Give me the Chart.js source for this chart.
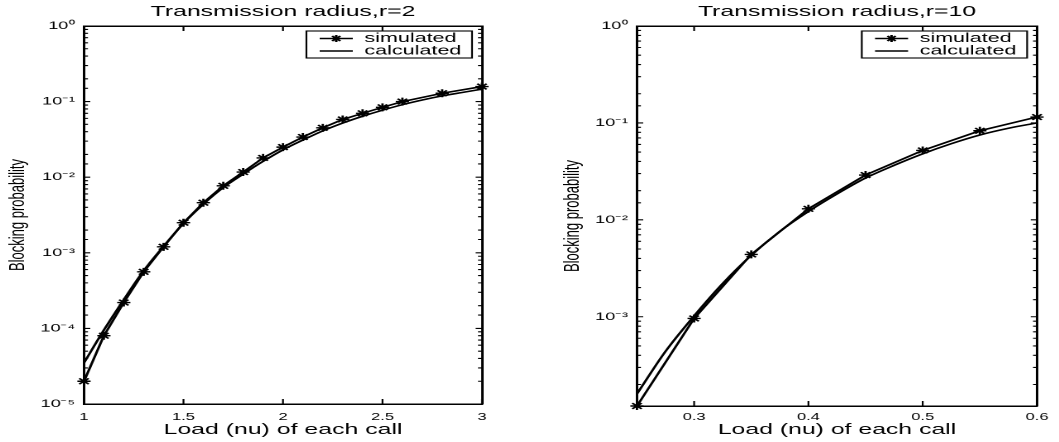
<!DOCTYPE html>
<html>
<head>
<meta charset="utf-8">
<script src="https://cdn.jsdelivr.net/npm/chart.js@4/dist/chart.umd.min.js"></script>
<style>
  html, body { margin: 0; padding: 0; background: #fff; }
  #page { position: relative; width: 1059px; height: 442px; overflow: hidden; }
  .panel { position: absolute; top: 0; width: 320px; height: 442px; transform-origin: 0 0; }
</style>
</head>
<body>
<div id="page">
  <div class="panel" style="left:0; transform:scaleX(1.65625)">
    <canvas id="left" width="320" height="442" style="width:320px;height:442px"></canvas>
  </div>
  <div class="panel" style="left:530px; transform:scaleX(1.653125)">
    <canvas id="right" width="320" height="442" style="width:320px;height:442px"></canvas>
  </div>
</div>
<script>
// r = 2 panel
const loadSimR2 = [1.0, 1.1, 1.2, 1.3, 1.4, 1.5, 1.6, 1.7, 1.8, 1.9, 2.0, 2.1, 2.2, 2.3, 2.4, 2.5, 2.6, 2.8, 3.0];
const simR2 = [2.0e-5, 8.0e-5, 2.2e-4, 5.6e-4, 1.2e-3, 2.5e-3, 4.6e-3, 7.7e-3, 1.17e-2, 1.8e-2, 2.5e-2,
               3.4e-2, 4.5e-2, 5.8e-2, 7.0e-2, 8.4e-2, 1.0e-1, 1.29e-1, 1.58e-1];
const loadCalcR2 = [1.0, 1.1, 1.2, 1.3, 1.4, 1.5, 1.6, 1.7, 1.8, 1.9, 2.0, 2.1, 2.2, 2.3, 2.4, 2.5, 2.6, 2.7, 2.8, 2.9, 3.0];
const calcR2 = [3.5e-5, 9.5e-5, 2.4e-4, 5.8e-4, 1.22e-3, 2.45e-3, 4.4e-3, 7.3e-3, 1.1e-2, 1.62e-2, 2.3e-2,
                3.1e-2, 4.1e-2, 5.2e-2, 6.4e-2, 7.7e-2, 9.1e-2, 1.05e-1, 1.19e-1, 1.32e-1, 1.46e-1];

// r = 10 panel
const loadSimR10 = [0.25, 0.3, 0.35, 0.4, 0.45, 0.5, 0.55, 0.6];
const simR10 = [1.2e-4, 9.6e-4, 4.4e-3, 1.3e-2, 2.9e-2, 5.2e-2, 8.3e-2, 1.15e-1];
const loadCalcR10 = [0.25, 0.275, 0.3, 0.325, 0.35, 0.375, 0.4, 0.425, 0.45, 0.475, 0.5, 0.525, 0.55, 0.575, 0.6];
const calcR10 = [1.6e-4, 4.4e-4, 1.02e-3, 2.2e-3, 4.3e-3, 7.6e-3, 1.22e-2, 1.85e-2, 2.7e-2,
                 3.65e-2, 4.8e-2, 6.1e-2, 7.5e-2, 8.8e-2, 1.0e-1];

const seriesNames = ['simulated', 'calculated'];

Chart.defaults.font.family = '"Liberation Sans", Arial, sans-serif';
Chart.defaults.color = '#000';

const SUP = {'0': '\u2070', '1': '\u00b9', '2': '\u00b2', '3': '\u00b3', '4': '\u2074', '5': '\u2075', '-': '\u207b'};
const AXIS_BORDER = {display: true, color: '#000', width: 1.5};

function isDecade(v) {
    const e = Math.round(Math.log10(v));
    return Math.abs(v - Math.pow(10, e)) / Math.pow(10, e) < 1e-6;
}

function decadeLabel(v) {
    if (!isDecade(v)) return '';
    const e = String(Math.round(Math.log10(v)));
    return '10' + e.split('').map(c => SUP[c]).join('');
}

function drawStar(ctx, x, y, r) {
    const d = r * Math.SQRT1_2;
    ctx.moveTo(x - r, y); ctx.lineTo(x + r, y);
    ctx.moveTo(x, y - r); ctx.lineTo(x, y + r);
    ctx.moveTo(x - d, y - d); ctx.lineTo(x + d, y + d);
    ctx.moveTo(x - d, y + d); ctx.lineTo(x + d, y - d);
}

// inward tick marks on all four sides, legend in the upper right corner
const matlabFrame = {
    id: 'matlabFrame',
    afterDraw(chart) {
        const {ctx, chartArea: a} = chart;
        const xs = chart.scales.x, ys = chart.scales.y;
        ctx.save();
        ctx.strokeStyle = '#000';
        ctx.lineWidth = 1.1;
        ctx.beginPath();
        xs.ticks.forEach(t => {
            const px = xs.getPixelForValue(t.value);
            ctx.moveTo(px, a.bottom); ctx.lineTo(px, a.bottom - 5);
            ctx.moveTo(px, a.top); ctx.lineTo(px, a.top + 5);
        });
        ys.ticks.forEach(t => {
            const py = ys.getPixelForValue(t.value);
            const len = isDecade(t.value) ? 3.8 : 2.4;
            ctx.moveTo(a.left, py); ctx.lineTo(a.left + len, py);
            ctx.moveTo(a.right, py); ctx.lineTo(a.right - len, py);
        });
        ctx.stroke();

        const w = 100, h = 27;
        const x0 = a.right - 6 - w, y0 = a.top + 5;
        ctx.fillStyle = '#fff';
        ctx.fillRect(x0, y0, w, h);
        ctx.lineWidth = 1.1;
        ctx.strokeRect(x0, y0, w, h);
        ctx.font = '13px "Liberation Sans", Arial, sans-serif';
        ctx.fillStyle = '#000';
        ctx.textBaseline = 'middle';
        chart.data.datasets.forEach((ds, i) => {
            const yy = y0 + 7.5 + i * 12.5;
            ctx.beginPath();
            ctx.lineWidth = 1.5;
            ctx.moveTo(x0 + 8, yy); ctx.lineTo(x0 + 28, yy);
            if (ds.pointRadius > 0) drawStar(ctx, x0 + 18, yy, 3.5);
            ctx.stroke();
            ctx.fillText(ds.label, x0 + 35, yy);
        });
        ctx.restore();
    }
};

function makePanel(id, opt) {
    const simData = opt.simX.map((v, i) => ({x: v, y: opt.simY[i]}));
    const calcData = opt.calcX.map((v, i) => ({x: v, y: opt.calcY[i]}));
    return new Chart(document.getElementById(id), {
        type: 'line',
        data: {
            datasets: [{
                label: seriesNames[0],
                data: simData,
                borderColor: '#000',
                borderWidth: 1.6,
                pointStyle: 'star',
                pointRadius: 4,
                pointBorderColor: '#000',
                pointBorderWidth: 1.4,
                tension: 0,
                clip: false
            }, {
                label: seriesNames[1],
                data: calcData,
                borderColor: '#000',
                borderWidth: 1.6,
                pointRadius: 0,
                cubicInterpolationMode: 'monotone'
            }]
        },
        options: {
            responsive: false,
            devicePixelRatio: 2,
            animation: false,
            events: [],
            layout: {padding: {left: 0, right: opt.padRight, top: 0, bottom: 0}},
            plugins: {
                legend: {display: false},
                tooltip: {enabled: false},
                title: {
                    display: true,
                    text: opt.title,
                    fullSize: false,
                    font: {size: 15, weight: 'normal'},
                    padding: {top: 3, bottom: 5}
                }
            },
            scales: {
                x: {
                    type: 'linear',
                    min: opt.xMin,
                    max: opt.xMax,
                    grid: {display: false, drawTicks: false},
                    border: AXIS_BORDER,
                    ticks: {
                        stepSize: opt.xStep,
                        includeBounds: false,
                        autoSkip: false,
                        maxRotation: 0,
                        padding: opt.xTickPad,
                        font: {size: 10},
                        callback: v => String(Math.round(v * 100) / 100)
                    },
                    title: {
                        display: true,
                        text: 'Load (nu) of each call',
                        font: {size: 15},
                        padding: {top: 0, bottom: 3}
                    },
                    afterFit: s => { s.height = opt.xHeight; }
                },
                xTop: {
                    type: 'linear',
                    position: 'top',
                    min: opt.xMin,
                    max: opt.xMax,
                    grid: {display: false, drawTicks: false},
                    border: AXIS_BORDER,
                    ticks: {display: false},
                    afterFit: s => { s.height = 0; }
                },
                y: {
                    type: 'logarithmic',
                    min: opt.yMin,
                    max: 1,
                    grid: {display: false, drawTicks: false},
                    border: AXIS_BORDER,
                    ticks: {
                        autoSkip: false,
                        padding: 5.4,
                        font: {size: 11},
                        callback: v => decadeLabel(v)
                    },
                    title: {
                        display: true,
                        text: 'Blocking probability',
                        font: {size: 13},
                        padding: {top: opt.yTitlePad, bottom: 0}
                    },
                    afterFit: s => { s.width = opt.yWidth; }
                },
                yRight: {
                    type: 'logarithmic',
                    position: 'right',
                    min: opt.yMin,
                    max: 1,
                    grid: {display: false, drawTicks: false},
                    border: AXIS_BORDER,
                    ticks: {display: false},
                    afterFit: s => { s.width = 0; }
                }
            }
        },
        plugins: [matlabFrame]
    });
}

makePanel('left', {
    title: 'Transmission radius,r=2',
    simX: loadSimR2, simY: simR2, calcX: loadCalcR2, calcY: calcR2,
    xMin: 1, xMax: 3, xStep: 0.5, yMin: 1e-5,
    yWidth: 50.7, padRight: 29, xHeight: 38, yTitlePad: 3.1, xTickPad: 7
});

makePanel('right', {
    title: 'Transmission radius,r=10',
    simX: loadSimR10, simY: simR10, calcX: loadCalcR10, calcY: calcR10,
    xMin: 0.25, xMax: 0.6, xStep: 0.1, yMin: 1.2e-4,
    yWidth: 64.7, padRight: 13.3, xHeight: 36, yTitlePad: 18.2, xTickPad: 5
});
</script>
</body>
</html>
